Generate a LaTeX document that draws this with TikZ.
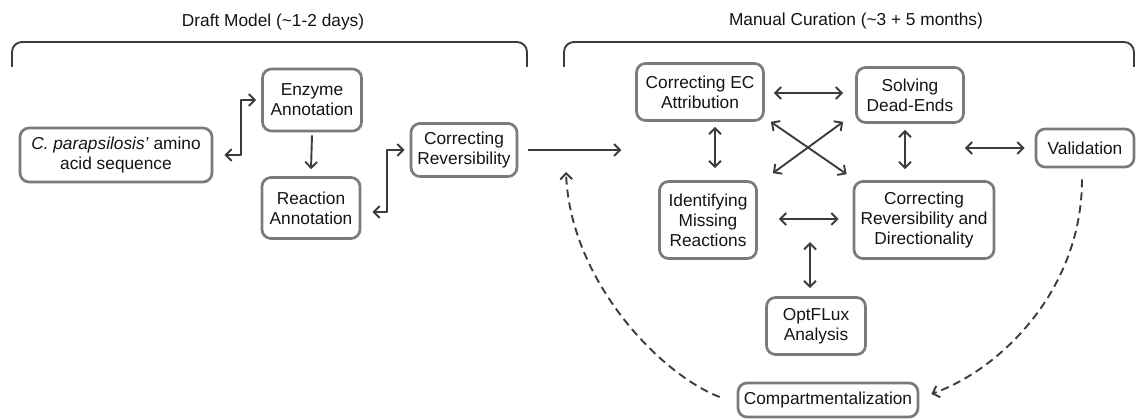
\documentclass[tikz,border=0pt]{standalone}
\usepackage{fontspec}
\setmainfont{Liberation Sans}
\usetikzlibrary{arrows.meta,calc}
\definecolor{boxgray}{HTML}{7A7A7A}
\definecolor{arrgray}{HTML}{3C3C3C}
\definecolor{txtgray}{HTML}{141414}
\tikzset{
  stage/.style={draw=boxgray, line width=2.7pt, rounded corners=9pt, align=center, inner sep=1pt, text=txtgray},
  link/.style={draw=arrgray, line width=1.9pt},
  feedback/.style={link, dash pattern=on 8pt off 5pt},
}
\begin{document}
\begin{tikzpicture}[x=1pt, y=-1pt, font=\fontsize{17.3}{20}\selectfont, line join=round, >={Straight Barb[length=6pt,width=12pt]}]
\useasboundingbox (0,0) rectangle (1136,420);
% phases
\draw[link, rounded corners=10pt] (12,67) |- (270,42) -| (527,67);
\draw[link, rounded corners=10pt] (564,67) |- (849,42) -| (1134,67);
\node[text=txtgray] (draft) at (273,22) {Draft Model (\textasciitilde1-2 days)};
\node[text=txtgray] (manual) at (856,21) {Manual Curation (\textasciitilde3 + 5 months)};
% draft model
\node[stage, minimum width=192pt, minimum height=54pt] (seq) at (116,155) {\textit{C. parapsilosis'} amino\\acid sequence};
\node[stage, minimum width=99pt, minimum height=62pt] (enz) at (312,100) {Enzyme\\Annotation};
\node[stage, minimum width=98pt, minimum height=61pt] (rea) at (311,208) {Reaction\\Annotation};
\node[stage, minimum width=106pt, minimum height=53pt] (crev) at (464,150) {Correcting\\Reversibility};
\draw[link, <->] ([xshift=11pt]seq.east) -- ++(17,0) |- ([xshift=-5pt]enz.west);
\draw[link, ->] ([yshift=-3pt]enz.south) -- ([yshift=7pt]rea.north);
\draw[link, <->] ([xshift=11pt,yshift=-4pt]rea.east) -- ++(15,0) |- ([xshift=-5pt]crev.west);
\coordinate (entry) at ([xshift=103pt]crev.east);
\draw[link, ->] ([xshift=10pt]crev.east) -- (entry);
% manual curation
\node[stage, minimum width=127pt, minimum height=57pt] (ec) at (700,92) {Correcting EC\\Attribution};
\node[stage, minimum width=107pt, minimum height=55pt] (dead) at (910,95) {Solving\\Dead-Ends};
\node[stage, minimum width=97pt, minimum height=77pt] (miss) at (708,220) {Identifying\\Missing\\Reactions};
\node[stage, minimum width=140pt, minimum height=77pt] (crd) at (924,220) {Correcting\\Reversibility and\\Directionality};
\node[stage, minimum width=98pt, minimum height=38pt] (val) at (1085,148) {Validation};
\node[stage, minimum width=99pt, minimum height=57pt] (opt) at (816,326) {OptFLux\\Analysis};
\node[stage, minimum width=180pt, minimum height=34pt] (comp) at (828,400) {Compartmentalization};
\draw[link, <->] ($(ec.east)+(9,1)$) -- ($(ec.east -| dead.west)+(-12,1)$);
\draw[link, <->] ($(ec.south)+(15,5)$) -- ($(ec.south |- miss.north)+(15,-12)$);
\draw[link, <->] ($(dead.south)+(-5,6)$) -- ($(dead.south |- crd.north)+(-5,-11)$);
\draw[link, <->] ($(ec.south east)+(6,0)$) -- ($(crd.north west)+(-6,-6)$);
\draw[link, <->] ($(dead.south west)+(-12,-2)$) -- ($(miss.north east)+(15,-7)$);
\draw[link, <->] ($(miss.east)+(21,-1)$) -- ($(miss.east -| crd.west)+(-14,-1)$);
\draw[link, <->] ($(opt.north)+(-6,-8)$) -- ++(0,-46);
\draw[link, <->] (dead.east |- val.west) -- ($(val.west)+(-10,0)$);
\coordinate (back) at (566,172);
\draw[feedback, ->] ($(val.south)+(-3,11)$) .. controls +(0,110) and +(70,-25) .. ($(comp.east)+(12,-6)$);
\draw[feedback, ->] ($(comp.west)+(-17,-3)$) .. controls +(-60,-23) and +(4,108) .. (back);
\end{tikzpicture}
\end{document}
